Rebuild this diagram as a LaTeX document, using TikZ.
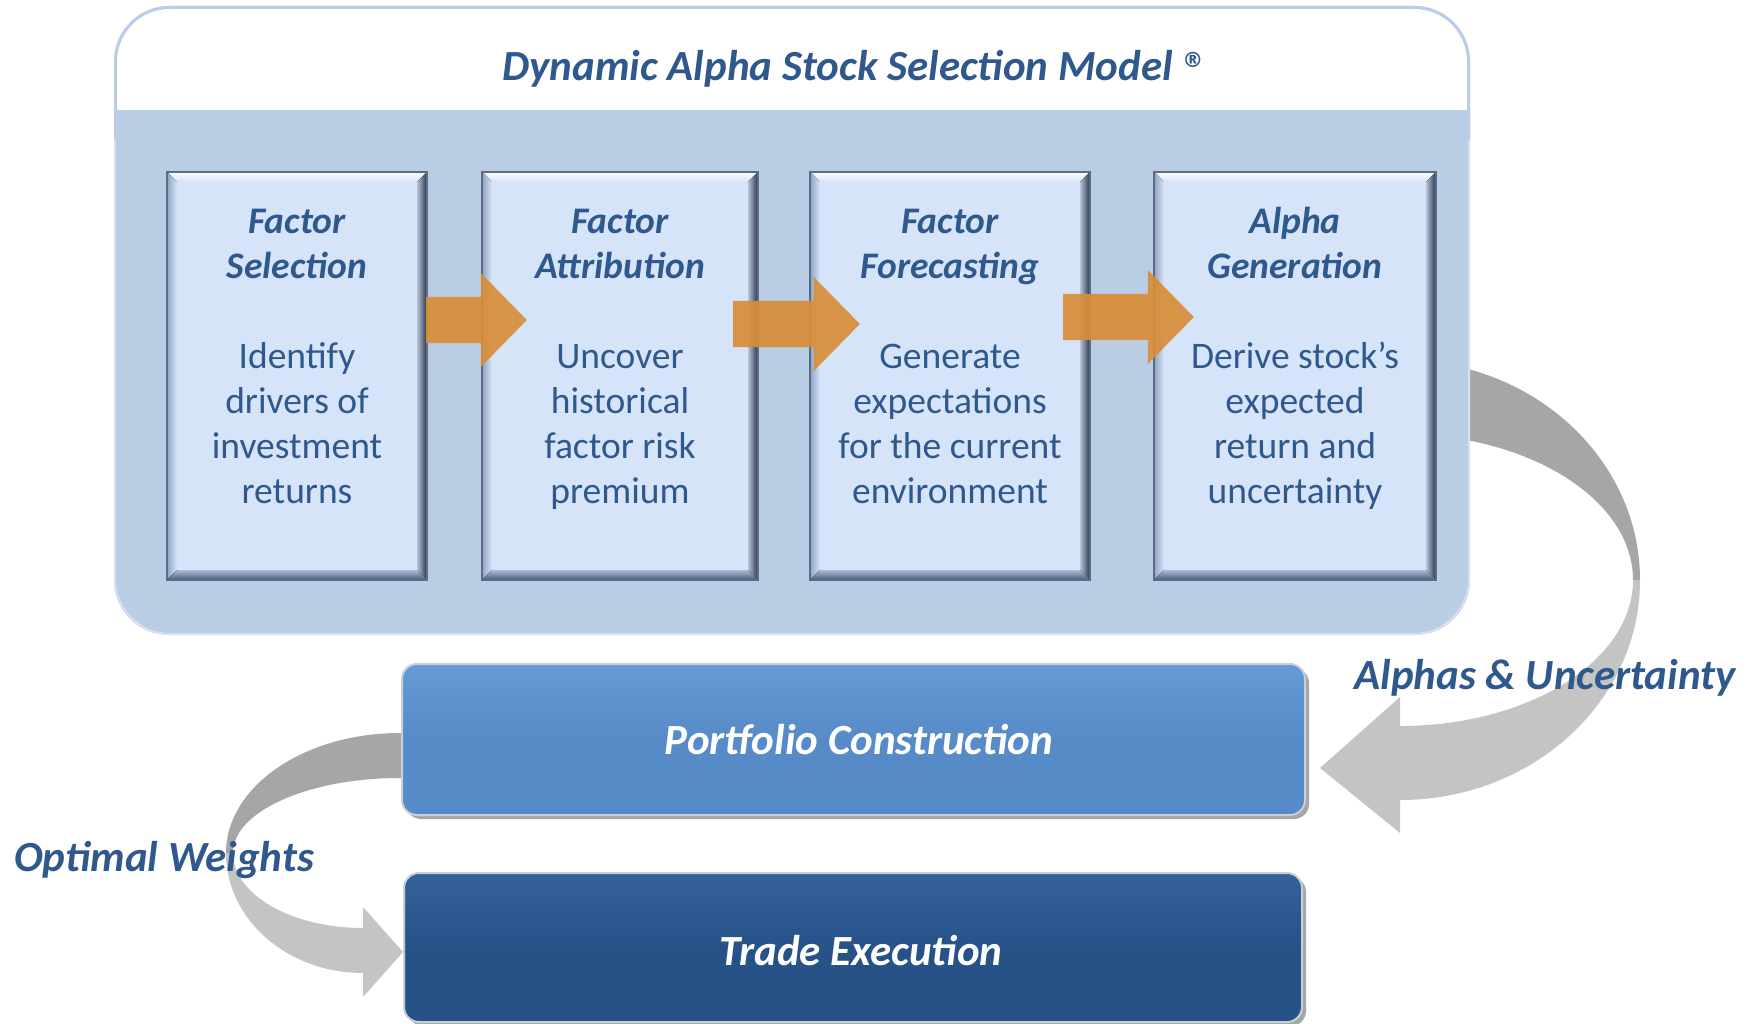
\documentclass[tikz,border=0pt]{standalone}
\usepackage{fontspec}
\setmainfont{Carlito}
\newfontfamily\djv{DejaVu Sans}
\usetikzlibrary{calc}
\definecolor{outerfill}{RGB}{185,205,229}
\definecolor{outeredge}{RGB}{214,226,241}
\definecolor{boxfill}{RGB}{214,228,250}
\definecolor{txtblue}{RGB}{47,88,140}
\definecolor{orng}{RGB}{217,142,55}
\definecolor{pcfill}{RGB}{87,139,200}
\definecolor{pctop}{RGB}{102,154,214}
\definecolor{tefill}{RGB}{38,82,136}
\definecolor{tetop}{RGB}{52,98,154}
\definecolor{gdark}{RGB}{166,166,166}
\definecolor{glight}{RGB}{196,196,196}
\definecolor{bevleft}{RGB}{140,160,190}
\definecolor{bevright}{RGB}{35,48,68}
\definecolor{bevbotA}{RGB}{170,186,212}
\definecolor{bevbotB}{RGB}{70,88,115}
\definecolor{bevline}{RGB}{90,108,135}
\newcommand\bt[1]{\textbf{\textit{#1}}}
\newcommand\bevel[1]{%
 \fill[top color=white, bottom color=boxfill] (#1.north west) -- (#1.north east) -- ($(#1.north east)+(-10,10)$) -- ($(#1.north west)+(10,10)$) -- cycle;
 \fill[left color=bevleft, right color=boxfill] (#1.north west) -- ($(#1.north west)+(10,10)$) -- ($(#1.south west)+(10,-10)$) -- (#1.south west) -- cycle;
 \fill[left color=boxfill!80!bevright, right color=bevright] (#1.north east) -- (#1.south east) -- ($(#1.south east)+(-10,-10)$) -- ($(#1.north east)+(-10,10)$) -- cycle;
 \fill[top color=bevbotA, bottom color=bevbotB] (#1.south west) -- ($(#1.south west)+(10,-10)$) -- ($(#1.south east)+(-10,-10)$) -- (#1.south east) -- cycle;
 \draw[bevline, line width=1.5pt] (#1.north west) rectangle (#1.south east);
}
\newcommand\oarrow[2]{%
 \fill[orng, fill opacity=0.92] ($(#1)+(0,-23)$) -- ($(#2)+(-46,-23)$) -- ($(#2)+(-46,-47)$) -- (#2) -- ($(#2)+(-46,47)$) -- ($(#2)+(-46,23)$) -- ($(#1)+(0,23)$) -- cycle;
}
\begin{document}
\begin{tikzpicture}[x=1pt,y=-1pt,
  boxfont/.style={font=\fontsize{37.5}{45}\selectfont},
  bigfont/.style={font=\fontsize{43}{50}\selectfont\bfseries\itshape},
  outerbox/.style={rectangle, rounded corners=55pt, fill=outerfill, inner sep=0pt},
  stepbox/.style={rectangle, fill=boxfill, inner sep=0pt, minimum height=408pt},
  boxtxt/.style={boxfont, text=txtblue, align=center, inner sep=0pt},
  lbl/.style={bigfont, text=txtblue, inner sep=0pt},
  wtxt/.style={bigfont, text=white, inner sep=0pt},
  wbox/.style={rectangle, rounded corners=15pt, draw={rgb,255:red,200;green,207;blue,216}, line width=2pt, inner sep=0pt}
]
\useasboundingbox (0,0) rectangle (1756,1024);
% curved gray arrows
\fill[gdark] (1400,360) .. controls (1532.6,360) and (1640,458.5) .. (1640,580) -- (1633,580) .. controls (1633,499.4) and (1528.7,434) .. (1400,434) -- cycle;
\fill[glight] (1640,580) .. controls (1640,701.5) and (1532.6,800) .. (1400,800) -- (1400,833) -- (1320,768) -- (1400,697) -- (1400,726) .. controls (1528.7,726) and (1633,660.6) .. (1633,580) -- cycle;
\fill[gdark] (420,733) -- (400,733) .. controls (303.9,733) and (226,786.7) .. (226,853) -- (233,853) .. controls (233,811.6) and (307.8,778) .. (400,778) -- (420,778) -- cycle;
\fill[glight] (226,853) .. controls (226,919.3) and (287.3,973) .. (363,973) -- (363,997) -- (403,952) -- (363,907) -- (363,928) .. controls (291.2,928) and (233,894.4) .. (233,853) -- cycle;
% outer model box
\node[outerbox, minimum width=1356pt, minimum height=629pt] (model) at (792,320.5) {};
\begin{scope}
 \clip[rounded corners=55pt] (114,6) rectangle (1470,635);
 \fill[white] (114,6) rectangle (1470,110);
\end{scope}
\draw[outeredge, line width=2pt, rounded corners=55pt] (115,7) rectangle (1469,634);
\draw[outerfill, line width=3pt, rounded corners=54pt] (115.5,140) -- (115.5,7.5) -- (1468.5,7.5) -- (1468.5,140);
\node[lbl] (ttl) at (853,68.5) {Dynamic Alpha Stock Selection Model \raisebox{0.3em}{\djv\bfseries\fontsize{21}{21}\selectfont ®}};
% step boxes
\node[stepbox, minimum width=260pt] (fs) at (297,376) {};
\node[stepbox, minimum width=276pt] (fa) at (620,376) {};
\node[stepbox, minimum width=280pt] (ff) at (950,376) {};
\node[stepbox, minimum width=282pt] (ag) at (1295,376) {};
\bevel{fs}\bevel{fa}\bevel{ff}\bevel{ag}
\node[boxtxt] (fst) at (297,359) {\strut\bt{Factor}\\\bt{Selection}\\[45pt]Identify\\drivers of\\investment\\returns\strut};
\node[boxtxt] (fat) at (620,359) {\strut\bt{Factor}\\\bt{Attribution}\\[45pt]Uncover\\historical\\factor risk\\premium\strut};
\node[boxtxt] (fft) at (950,359) {\strut\bt{Factor}\\\bt{Forecasting}\\[45pt]Generate\\expectations\\for the current\\environment\strut};
\node[boxtxt] (agt) at (1295,359) {\strut\bt{Alpha}\\\bt{Generation}\\[45pt]Derive stock’s\\expected\\return and\\uncertainty\strut};
% orange arrows
\coordinate (a1s) at ($(fs.east)+(-1,-56)$);
\coordinate (a1t) at ($(fa.west)+(45,-56)$);
\coordinate (a2s) at ($(fa.east)+(-25,-52)$);
\coordinate (a2t) at ($(ff.west)+(50,-52)$);
\coordinate (a3s) at ($(ff.east)+(-27,-59)$);
\coordinate (a3t) at ($(ag.west)+(40,-59)$);
\oarrow{a1s}{a1t}\oarrow{a2s}{a2t}\oarrow{a3s}{a3t}
% lower boxes
\fill[black, opacity=0.35, rounded corners=15pt] (406,668) rectangle (1309,819);
\node[wbox, top color=pctop, bottom color=pcfill, middle color=pcfill, minimum width=903pt, minimum height=151pt] (pc) at (853.5,739.5) {};
\node[wtxt] (pct) at (859,740) {Portfolio Construction};
\fill[black, opacity=0.35, rounded corners=15pt] (408,877) rectangle (1306,1026);
\node[wbox, top color=tetop, bottom color=tefill, middle color=tefill, minimum width=898pt, minimum height=149pt] (te) at (853,947.5) {};
\node[wtxt] (tet) at (861,950.5) {Trade Execution};
% labels
\node[lbl] (alu) at (1545,678) {Alphas \& Uncertainty};
\node[lbl] (ow) at (164,860) {Optimal Weights};
\end{tikzpicture}
\end{document}
